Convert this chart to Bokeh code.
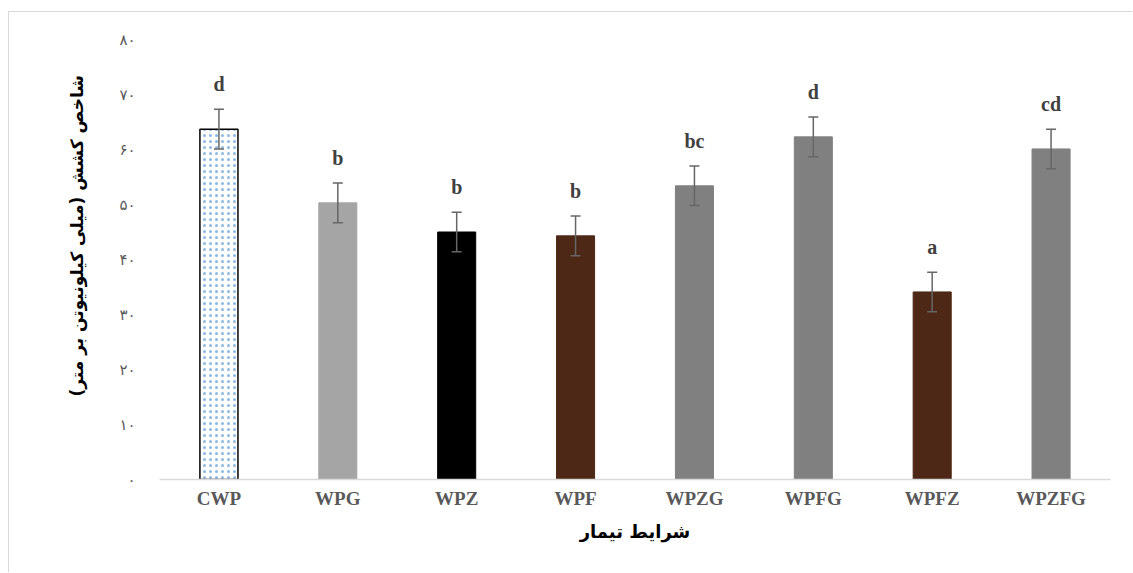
from bokeh.plotting import figure
from bokeh.models import ColumnDataSource, Range1d, FactorRange, FixedTicker, Whisker, TeeHead
from bokeh.core.properties import value
from bokeh.embed import file_html
from bokeh.resources import INLINE

categories = ["CWP", "WPG", "WPZ", "WPF", "WPZG", "WPFG", "WPFZ", "WPZFG"]
values = [63.7, 50.3, 45.0, 44.3, 53.4, 62.3, 34.1, 60.1]
errors = [3.6, 3.6, 3.6, 3.6, 3.6, 3.6, 3.6, 3.6]
letters = ["d", "b", "b", "b", "bc", "d", "a", "cd"]
colors = ["#ffffff", "#a5a5a5", "#000000", "#4d2816", "#808080", "#808080", "#4d2816", "#808080"]
y_ticks = [0, 10, 20, 30, 40, 50, 60, 70, 80]
y_tick_labels = ["۰", "۱۰", "۲۰", "۳۰", "۴۰", "۵۰", "۶۰", "۷۰", "۸۰"]
y_title = "شاخص کشش (میلی کیلونیوتن بر متر)"
x_title = "شرایط تیمار"

src = ColumnDataSource(dict(
    x=categories, top=values, color=colors,
    upper=[v + e for v, e in zip(values, errors)],
    lower=[v - e for v, e in zip(values, errors)],
    letter=letters,
))

p = figure(x_range=FactorRange(*categories, range_padding=0), y_range=Range1d(0, 80),
           width=1124, height=561, output_backend="svg", toolbar_location=None,
           min_border_left=150, min_border_right=23, min_border_top=27, min_border_bottom=94,
           styles={"border-top": "1px solid #d9d9d9", "border-left": "1px solid #d9d9d9",
                   "margin-top": "11px", "margin-left": "8px"})
p.outline_line_color = None
p.grid.grid_line_color = None
p.background_fill_color = "white"

plain = ColumnDataSource(dict(x=categories[1:], top=values[1:], color=colors[1:]))
p.vbar(x="x", top="top", width=0.32, source=plain, fill_color="color", line_color="color")
cw = ColumnDataSource(dict(x=categories[:1], top=values[:1]))
p.vbar(x="x", top="top", width=0.32, source=cw, fill_color="white", line_color="#000000",
       line_width=1.5, hatch_pattern="dot", hatch_color="#8db8e2", hatch_scale=6, hatch_weight=1.2)

w = Whisker(source=src, base="x", upper="upper", lower="lower", line_color="#666666", line_width=1.5,
            level="overlay",
            upper_head=TeeHead(size=10, line_color="#666666", line_width=1.5),
            lower_head=TeeHead(size=10, line_color="#666666", line_width=1.5))
p.add_layout(w)

p.text(x="x", y="upper", text="letter", source=src, y_offset=-25, text_align="center",
       text_baseline="alphabetic", text_font=value("Liberation Serif"), text_font_style="bold",
       text_font_size="20px", text_color="#404040")

ya = p.yaxis[0]
ya.ticker = FixedTicker(ticks=y_ticks)
ya.major_label_overrides = {t: l for t, l in zip(y_ticks, y_tick_labels)}
ya.axis_line_color = None
ya.major_tick_line_color = None
ya.minor_tick_line_color = None
ya.major_label_standoff = 18
ya.major_label_text_font = "DejaVu Sans"
ya.major_label_text_font_size = "15px"
ya.major_label_text_color = "#595959"
ya.axis_label = "\u00a0" * 8 + y_title
ya.axis_label_text_font = "DejaVu Sans"
ya.axis_label_text_font_style = "bold"
ya.axis_label_text_font_size = "17px"
ya.axis_label_text_color = "#000000"
ya.axis_label_standoff = 29

xa = p.xaxis[0]
xa.axis_line_color = "#d9d9d9"
xa.axis_line_width = 1.5
xa.major_tick_line_color = None
xa.minor_tick_line_color = None
xa.major_label_standoff = 2
xa.major_label_text_font = "Liberation Serif"
xa.major_label_text_font_style = "bold"
xa.major_label_text_font_size = "19px"
xa.major_label_text_color = "#595959"
xa.axis_label = x_title
xa.axis_label_text_font = "DejaVu Sans"
xa.axis_label_text_font_style = "bold"
xa.axis_label_text_font_size = "18px"
xa.axis_label_text_color = "#000000"
xa.axis_label_standoff = 9

open("out.html", "w").write(file_html(p, INLINE))
